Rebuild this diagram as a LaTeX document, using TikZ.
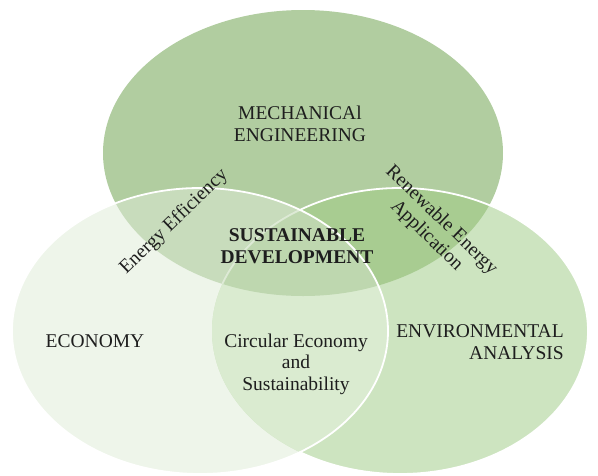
\documentclass[tikz,border=0pt]{standalone}
\usepackage{fontspec}
\setmainfont{Liberation Serif}
\definecolor{cT}{HTML}{B1CDA0}
\definecolor{cL}{HTML}{EEF5EA}
\definecolor{cR}{HTML}{CDE4C0}
\definecolor{cTL}{HTML}{C8DCBC}
\definecolor{cTR}{HTML}{A8CC91}
\definecolor{cLR}{HTML}{DAEBD0}
\definecolor{cTLR}{HTML}{BED7AF}
\definecolor{ink}{HTML}{1E1E1E}
\begin{document}
\begin{tikzpicture}[x=1pt,y=-1pt,
  lbl/.style={text=ink,align=center,inner sep=0pt,font=\fontsize{19.5}{21.5}\selectfont},
  bold/.style={lbl,font=\fontsize{19.5}{21.5}\selectfont\bfseries},
  rim/.style={draw=white,line width=1.8pt}]
\useasboundingbox (0,0) rectangle (598,475);
% base fills
\fill[cT] (303,153) ellipse [x radius=200pt, y radius=143pt];
\fill[cL] (200,331) ellipse [x radius=188pt, y radius=143pt];
\fill[cR] (400,331) ellipse [x radius=188pt, y radius=143pt];
% pairwise overlaps
\begin{scope}
  \clip (303,153) ellipse [x radius=200pt, y radius=143pt];
  \fill[cTL] (200,331) ellipse [x radius=188pt, y radius=143pt];
  \fill[cTR] (400,331) ellipse [x radius=188pt, y radius=143pt];
\end{scope}
\begin{scope}
  \clip (200,331) ellipse [x radius=188pt, y radius=143pt];
  \fill[cLR] (400,331) ellipse [x radius=188pt, y radius=143pt];
  \clip (303,153) ellipse [x radius=200pt, y radius=143pt];
  \fill[cTLR] (400,331) ellipse [x radius=188pt, y radius=143pt];
\end{scope}
% white rims: right circle (partly hidden under the left one)
\begin{scope}
  \clip (300,0) rectangle (598,475);
  \draw[rim] (400,331) ellipse [x radius=188pt, y radius=143pt];
\end{scope}
\begin{scope}
  \clip (0,0) rectangle (300,475);
  \clip (303,153) ellipse [x radius=200pt, y radius=143pt];
  \draw[rim,draw opacity=0.45] (400,331) ellipse [x radius=188pt, y radius=143pt];
\end{scope}
% left circle rim on top
\draw[rim] (200,331) ellipse [x radius=188pt, y radius=143pt];
% labels
\node[lbl] (mech) at (300,124) {MECHANICAl\\ENGINEERING};
\node[bold] (sd) at (297,246) {SUSTAINABLE\\DEVELOPMENT};
\node[lbl] (eco) at (95,341) {ECONOMY};
\node[lbl] (circ) at (296,364) {Circular Economy\\and\\Sustainability};
\node[lbl,align=right] (env) at (480,342) {ENVIRONMENTAL\\ANALYSIS};
\node[lbl,rotate=44] (ee) at (174,222) {Energy Efficiency};
\node[lbl,rotate=-44] (rea) at (434,228) {Renewable Energy\\Application};
\end{tikzpicture}
\end{document}
